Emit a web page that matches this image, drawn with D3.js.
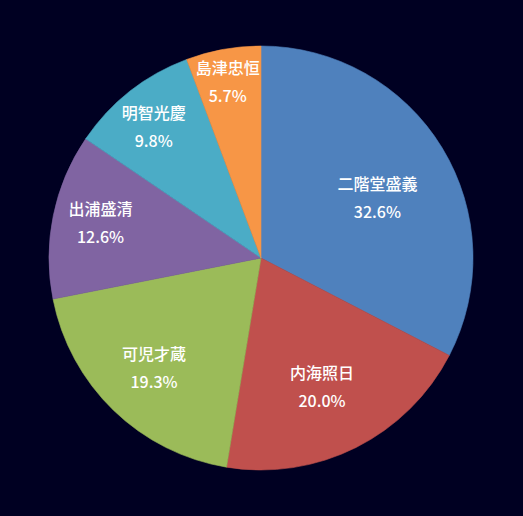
<!DOCTYPE html>
<html><head><meta charset="utf-8">
<script src="https://cdn.jsdelivr.net/npm/d3@7"></script>
<style>
html,body{margin:0;padding:0;background:#000022;}
svg{display:block;}
</style></head>
<body>
<svg id="chart" width="523" height="516"></svg>
<script>
const categories = ["二階堂盛義","内海照日","可児才蔵","出浦盛清","明智光慶","島津忠恒"];
const values = [32.6, 20.0, 19.3, 12.6, 9.8, 5.7];
const colors = ["#4F81BD","#C0504D","#9BBB59","#8064A2","#4BACC6","#F79646"];
// label layout only: distance from centre (fraction of radius) and angular nudge (deg)
const labelRadius = [0.616, 0.675, 0.725, 0.774, 0.798, 0.841];
const labelShift = [4.4, 1.4, 0, 0.5, -1.2, -0.5];

const W = 523, H = 516;
const cx = 261, cy = 258, R = 212;
const svg = d3.select("#chart");
svg.append("rect").attr("width", W).attr("height", H).attr("fill", "#000022");
const g = svg.append("g").attr("transform", `translate(${cx},${cy})`);

const pie = d3.pie().value(d => d).sort(null);
const arcs = pie(values);
const arc = d3.arc().innerRadius(0).outerRadius(R);

g.selectAll("path.slice").data(arcs).enter().append("path")
  .attr("class","slice")
  .attr("d", arc)
  .attr("fill", (d,i) => colors[i])
  .attr("stroke", (d,i) => colors[i])
  .attr("stroke-width", 0.6)
  .attr("stroke-linejoin", "round");

const lab = g.selectAll("g.lab").data(arcs).enter().append("g")
  .attr("class","lab")
  .attr("transform", (d,i) => {
    const r = R * labelRadius[i];
    const a = (d.startAngle + d.endAngle) / 2 + labelShift[i] * Math.PI / 180;
    const x = r * Math.sin(a), y = -r * Math.cos(a);
    return `translate(${x},${y})`;
  });
const font = "'Noto Sans CJK JP','Noto Sans',sans-serif";
lab.append("text")
  .attr("text-anchor","middle")
  .attr("y", -14)
  .attr("dy","0.35em")
  .attr("fill","#ffffff")
  .style("font-family", font)
  .style("font-size","16px")
  .style("font-weight","500")
  .text((d,i) => categories[i]);
lab.append("text")
  .attr("text-anchor","middle")
  .attr("y", 14)
  .attr("dy","0.35em")
  .attr("fill","#ffffff")
  .style("font-family", font)
  .style("font-size","16px")
  .style("font-weight","500")
  .text((d,i) => values[i].toFixed(1) + "%");
</script>
</body></html>
